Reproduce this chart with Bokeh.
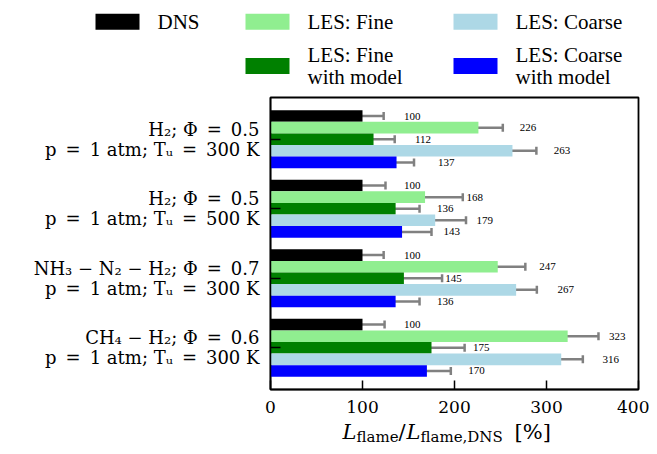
from bokeh.plotting import figure
from bokeh.models import Range1d, ColumnDataSource, Whisker, TeeHead, FixedTicker
from bokeh.layouts import column
from bokeh.core.properties import value
from bokeh.embed import file_html
from bokeh.resources import INLINE

# ---------------- data ----------------
EN = "\u2002"
conditions = [
    f"H\u2082; \u03a6{EN}={EN}0.5\np{EN}={EN}1 atm; T\u1d64{EN}={EN}300 K",
    f"H\u2082; \u03a6{EN}={EN}0.5\np{EN}={EN}1 atm; T\u1d64{EN}={EN}500 K",
    f"NH\u2083 \u2212 N\u2082 \u2212 H\u2082; \u03a6{EN}={EN}0.7\np{EN}={EN}1 atm; T\u1d64{EN}={EN}300 K",
    f"CH\u2084 \u2212 H\u2082; \u03a6{EN}={EN}0.6\np{EN}={EN}1 atm; T\u1d64{EN}={EN}300 K",
]
series_names = ["DNS", "LES: Fine", "LES: Fine\nwith model", "LES: Coarse", "LES: Coarse\nwith model"]
series_colors = ["black", "lightgreen", "green", "lightblue", "blue"]

dns = [100, 100, 100, 100]
dns_err = [23, 25, 23, 24]
les_fine = [226, 168, 247, 323]
les_fine_err = [26.5, 41, 30, 33.5]
les_fine_model = [112, 136, 145, 175]
les_fine_model_err = [23, 26, 41.5, 36]
les_coarse = [263, 179, 267, 316]
les_coarse_err = [26, 33.5, 22.5, 23.5]
les_coarse_model = [137, 143, 136, 170]
les_coarse_model_err = [19, 32, 26, 26]

x_ticks = [0, 100, 200, 300, 400]

# x-axis label pieces: text, is_subscript, italic
x_label_parts = [("L", False, True), ("flame", True, False), ("/", False, False),
                 ("L", False, True), ("flame,DNS", True, False), ("[%]", False, False)]

series_values = [dns, les_fine, les_fine_model, les_coarse, les_coarse_model]
series_errors = [dns_err, les_fine_err, les_fine_model_err, les_coarse_err, les_coarse_model_err]

# ---------------- layout constants (pixels) ----------------
W = 649
LEG_H = 92
FRAME_L, FRAME_R = 270, 638
FRAME_T, FRAME_B = 97, 389
Y_LO, Y_HI = -0.6, 3.6
X_LO, X_HI = 0, 400

# ---------------- main figure ----------------
BAR_H = 1.0 / 6.0
LABEL_SHIFT = 45
p = figure(frame_width=FRAME_R - FRAME_L, frame_height=FRAME_B - FRAME_T,
           x_range=Range1d(X_LO, X_HI), y_range=Range1d(Y_HI, Y_LO),
           output_backend="svg", toolbar_location=None,
           min_border_left=FRAME_L, min_border_right=W - FRAME_R,
           min_border_top=FRAME_T - LEG_H, min_border_bottom=0)
p.frame_align = False

for k, (vals, errs, col) in enumerate(zip(series_values, series_errors, series_colors)):
    ys = [g + (k - 2) * BAR_H for g in range(len(conditions))]
    src = ColumnDataSource(dict(
        y=ys, right=vals,
        lo=[v - e for v, e in zip(vals, errs)],
        hi=[v + e for v, e in zip(vals, errs)],
        tx=[v + LABEL_SHIFT for v in vals],
        txt=[str(v) for v in vals],
    ))
    p.hbar(y="y", left=0, right="right", height=BAR_H, fill_color=col, line_color=None, source=src)
    w = Whisker(source=src, base="y", lower="lo", upper="hi", dimension="width",
                line_color="#808080", line_width=2.5,
                lower_head=TeeHead(size=8, line_color="#808080", line_width=2.5),
                upper_head=TeeHead(size=8, line_color="#808080", line_width=2.5))
    p.add_layout(w)
    p.text(x="tx", y="y", text="txt", source=src, text_font=value("Liberation Serif"),
           text_font_size="11px", text_baseline="middle", text_align="left", text_color="black")

p.grid.visible = False
p.outline_line_color = "black"
p.outline_line_width = 1.8

p.xaxis.ticker = FixedTicker(ticks=x_ticks)
p.xaxis.major_tick_in = 9
p.xaxis.major_tick_out = 0
p.xaxis.minor_tick_line_color = None
p.xaxis.major_tick_line_width = 1.5
p.xaxis.axis_line_width = 1.5
p.xaxis.major_label_text_font = "DejaVu Serif"
p.xaxis.major_label_text_font_size = "17px"
p.xaxis.major_label_text_color = "black"
p.xaxis.major_label_text_line_height = 0.2
p.xaxis.major_label_standoff = 11

p.yaxis.ticker = FixedTicker(ticks=list(range(len(conditions))))
p.yaxis.major_label_overrides = {i: c for i, c in enumerate(conditions)}
p.yaxis.major_tick_in = 10
p.yaxis.major_tick_out = 0
p.yaxis.minor_tick_line_color = None
p.yaxis.major_tick_line_width = 1.5
p.yaxis.axis_line_width = 1.5
p.yaxis.major_label_text_font = "DejaVu Serif"
p.yaxis.major_label_text_font_size = "18px"
p.yaxis.major_label_text_color = "black"
p.yaxis.major_label_text_line_height = 0.95
p.yaxis.major_label_standoff = 11

# ---------------- x-axis label strip ----------------
XL_H = 36
xl = figure(width=W, height=XL_H, x_range=Range1d(0, W), y_range=Range1d(XL_H, 0),
            output_backend="svg", toolbar_location=None, x_axis_type=None, y_axis_type=None,
            min_border=0)
xl.frame_align = False
xl.grid.visible = False
xl.outline_line_color = None
piece_left = [342, 356, 398, 406, 420, 514]
BASE = 16
for (txt, sub, ital), sx in zip(x_label_parts, piece_left):
    xl.text(x=[sx], y=[BASE + (5 if sub else 0)], text=[txt],
            text_font=value("DejaVu Serif"), text_font_size="15px" if sub else "21px",
            text_font_style="italic" if ital else "normal",
            text_baseline="alphabetic", text_align="left", text_color="black")

# ---------------- legend figure ----------------
lg = figure(width=W, height=LEG_H, x_range=Range1d(0, W), y_range=Range1d(LEG_H, 0),
            output_backend="svg", toolbar_location=None, x_axis_type=None, y_axis_type=None,
            min_border=0)
lg.frame_align = False
lg.grid.visible = False
lg.outline_line_color = None

col_x = [117, 267, 475]
row_y = [21.3, 65.5]
slots = [(0, 0), (1, 0), (1, 1), (2, 0), (2, 1)]
leg_src = ColumnDataSource(dict(
    x=[col_x[c] for c, r in slots],
    y=[row_y[r] for c, r in slots],
    tx=[col_x[c] + 40 for c, r in slots],
    color=series_colors,
    name=series_names,
))
lg.rect(x="x", y="y", width=44, height=16, fill_color="color", line_color=None, source=leg_src)
lg.text(x="tx", y="y", text="name", source=leg_src, text_font=value("Liberation Serif"),
        text_font_size="21px", text_baseline="middle", text_align="left",
        text_line_height=0.95, text_color="black")

layout = column(lg, p, xl)
open("out.html", "w").write(file_html(layout, INLINE))
